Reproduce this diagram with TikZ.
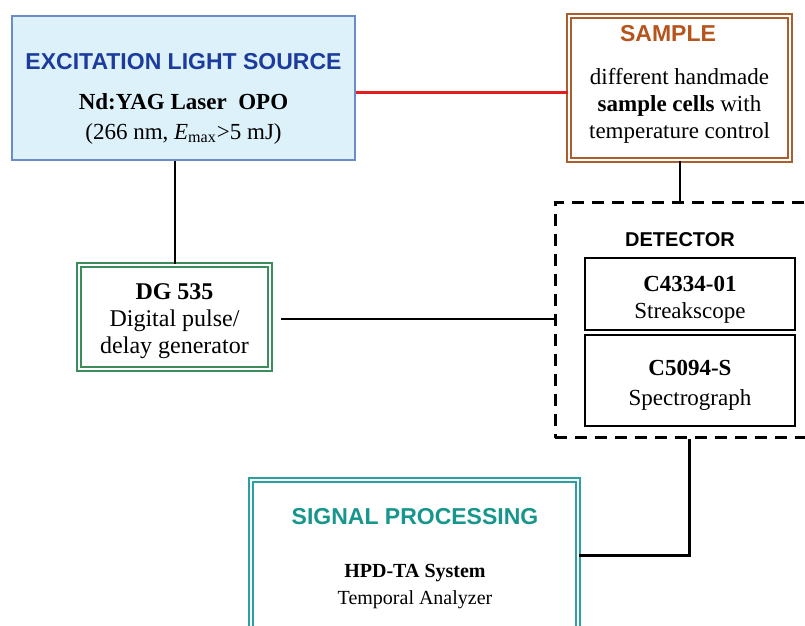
\documentclass[tikz,border=0pt]{standalone}
\usepackage{fontspec}
\setmainfont{Liberation Serif}
\newfontfamily\headfont{Liberation Sans}
\usetikzlibrary{positioning}
\definecolor{srcfill}{HTML}{DDF1FA}
\definecolor{srcline}{HTML}{6C8CC8}
\definecolor{srctext}{HTML}{1B3C9C}
\definecolor{sampleline}{HTML}{A9602E}
\definecolor{sampletext}{HTML}{B5541C}
\definecolor{delayline}{HTML}{3C8C5C}
\definecolor{procline}{HTML}{2AA1A0}
\definecolor{proctext}{HTML}{17968C}
\definecolor{laserred}{HTML}{E41E1E}

\begin{document}
\begin{tikzpicture}[x=0.5pt, y=-0.5pt, every node/.style={font=\fontsize{11.5}{13.5}\selectfont}]

    % styles for the setup
    \tikzset{
        sourcebox/.style={draw=srcline, fill=srcfill, line width=0.6pt, minimum width=171.5pt, minimum height=72pt},
        doublebox/.style={double=white, line width=0.75pt, double distance=1.2pt, fill=white},
        unitbox/.style={draw=black, line width=1pt, minimum width=105pt},
        detectorframe/.style={draw=black, line width=1.5pt, dash pattern=on 6pt off 4pt, minimum width=128.5pt, minimum height=117.5pt},
        heading/.style={font=\headfont\bfseries\fontsize{11.5}{13.5}\selectfont},
        bodytext/.style={align=center, inner sep=0pt},
        link/.style={draw=black, line width=1pt},
        laserlink/.style={draw=laserred, line width=1.5pt}
    }

    \useasboundingbox (0,0) rectangle (805,626);

    % boxes
    \node[sourcebox] (source) at (183.5,88) {};
    \node[doublebox, draw=sampleline, minimum width=110.5pt, minimum height=72pt] (sample) at (679.5,88) {};
    \node[doublebox, draw=delayline, minimum width=95.5pt, minimum height=52pt] (delay) at (174.5,317) {};
    \node[detectorframe] (detector) at (683.5,320.5) {};
    \node[unitbox, minimum height=36pt] (streak) at (690,294) {};
    \node[unitbox, minimum height=45.5pt] (spectro) at (690,380.5) {};
    \node[doublebox, draw=procline, minimum width=163.5pt, minimum height=76pt] (proc) at (414.5,556) {};

    % texts
    \node[heading, text=srctext] (sourcetitle) at (183.5,62) {EXCITATION LIGHT SOURCE};
    \node[bodytext, font=\fontsize{11.5}{15}\selectfont] (sourcetext) at (183.5,118.5) {\textbf{Nd:YAG Laser~~OPO}\\(266 nm, \textit{E}\textsubscript{max}>5 mJ)};
    \node[heading, text=sampletext] (sampletitle) at (668,34) {SAMPLE};
    \node[bodytext] (sampletext) at (679.5,106) {different handmade\\\textbf{sample cells} with\\temperature control};
    \node[bodytext, font=\fontsize{12}{13.5}\selectfont] (delaytext) at (174.5,321) {\textbf{DG 535}\\Digital pulse/\\delay generator};
    \node[heading, font=\headfont\bfseries\fontsize{10}{12}\selectfont] (detectortitle) at (680,240) {DETECTOR};
    \node[bodytext] (streaktext) at (690,300) {\textbf{C4334-01}\\Streakscope};
    \node[bodytext, font=\fontsize{11.5}{15}\selectfont] (spectrotext) at (690,385) {\textbf{C5094-S}\\Spectrograph};
    \node[heading, text=proctext] (proctitle) at (415,517) {SIGNAL PROCESSING};
    \node[bodytext, font=\fontsize{10}{13.5}\selectfont] (proctext) at (415,586.5) {\textbf{HPD-TA System}\\Temporal Analyzer};

    % connections
    \draw[laserlink] ([yshift=-2.5pt]source.east) -- ([yshift=-2.5pt]sample.west);
    \draw[link] (delay.north) -- (delay.north |- source.south);
    \draw[link, line width=0.8pt, shorten <=5pt] ([yshift=-1pt]delay.east) -- ([yshift=-1pt]delay.east -| detector.west);
    \draw[link] (sample.south) -- (sample.south |- detector.north);
    \draw[link, line width=1.5pt] ([xshift=2.75pt]detector.south) |- (proc.east);

\end{tikzpicture}
\end{document}
